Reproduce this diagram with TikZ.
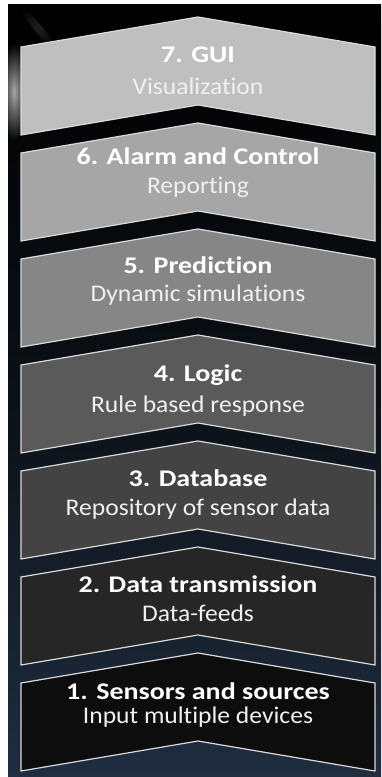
\documentclass[tikz,border=0pt]{standalone}
\usepackage{fontspec}
\setmainfont{Carlito}
\newfontfamily\headfont[FakeStretch=1.17, Ligatures=CommonOff]{Carlito}
\newfontfamily\notefont[FakeStretch=1.07, Ligatures=CommonOff]{Carlito}
\usetikzlibrary{fadings}

\definecolor{bgtop}{HTML}{000000}
\definecolor{bgmid}{HTML}{0B1016}
\definecolor{bgbot}{HTML}{1F2D40}
\definecolor{rimcol}{HTML}{DADADA}
\definecolor{subcol}{HTML}{F0F0F0}
\definecolor{lvA}{HTML}{0D0D0D}
\definecolor{lvB}{HTML}{262626}
\definecolor{lvC}{HTML}{434343}
\definecolor{lvD}{HTML}{5A5A5A}
\definecolor{lvE}{HTML}{868686}
\definecolor{lvF}{HTML}{A6A6A6}
\definecolor{lvG}{HTML}{BFBFBF}

\tikzfading[name=softglow, inner color=transparent!35, outer color=transparent!100]

\tikzset{
  chevron/.style={draw=rimcol, line width=1.2bp, line join=miter},
  titletext/.style={font=\headfont\fontsize{24}{26}\selectfont\bfseries, text=white, anchor=base, inner sep=0pt},
  subtext/.style={font=\notefont\fontsize{24}{26}\selectfont, text=subcol, anchor=base, inner sep=0pt},
}

% chevron band whose upper left corner sits at depth #1
\newcommand{\layerband}[2]{%
  \path[chevron, fill=#2]
    (21,#1) -- (198,#1-30) -- (375,#1) -- (375,#1+88) -- (198,#1+58) -- (21,#1+88) -- cycle;
}

\begin{document}
\begin{tikzpicture}[x=1bp, y=-1bp]
  \useasboundingbox (0,0) rectangle (381,777);
  \fill[white] (0,0) rectangle (381,777);

  % dark backdrop, black at the top turning navy towards the bottom
  \shade[top color=bgtop, bottom color=bgbot, middle color=bgmid] (8,5) rectangle (381,777);

  % light glow on the left rim and a faint streak near the top
  \begin{scope}
    \clip (8,5) rectangle (381,777);
    \fill[white, path fading=softglow] (14,92) ellipse [x radius=14, y radius=48];
    \fill[white, opacity=0.18, path fading=softglow, rotate around={-50:(38,28)}] (38,28) ellipse [x radius=34, y radius=4];
  \end{scope}

  % the seven layers, from the top down
  \layerband{47}{lvG}
  \layerband{153}{lvF}
  \layerband{259}{lvE}
  \layerband{365}{lvD}
  \layerband{471}{lvC}
  \layerband{577}{lvB}
  \layerband{683}{lvA}

  \node[titletext] (t7) at (198,63) {7. GUI};
  \node[subtext]   (s7) at (198,94) {Visualization};

  \node[titletext] (t6) at (198,164) {6. Alarm and Control};
  \node[subtext]   (s6) at (198,193) {Reporting};

  \node[titletext] (t5) at (198,273) {5. Prediction};
  \node[subtext]   (s5) at (198,301) {Dynamic simulations};

  \node[titletext] (t4) at (198,381) {4. Logic};
  \node[subtext]   (s4) at (198,412) {Rule based response};

  \node[titletext] (t3) at (198,486) {3. Database};
  \node[subtext]   (s3) at (198,515) {Repository of sensor data};

  \node[titletext] (t2) at (198,592) {2. Data transmission};
  \node[subtext]   (s2) at (198,621) {Data-feeds};

  \node[titletext] (t1) at (198,699) {1. Sensors and sources};
  \node[subtext]   (s1) at (198,723) {Input multiple devices};
\end{tikzpicture}
\end{document}
